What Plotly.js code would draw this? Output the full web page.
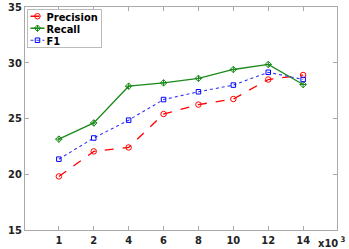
<!DOCTYPE html>
<html><head><meta charset="utf-8">
<script src="https://cdn.plot.ly/plotly-3.0.1.min.js"></script>
<style>html,body{margin:0;padding:0;background:#fff}#c{width:349px;height:249px}</style>
</head><body><div id="c"></div>
<script>
var categories = ["1","2","4","6","8","10","12","14"];
var precision = [19.8, 22.05, 22.4, 25.4, 26.25, 26.75, 28.5, 28.9];
var recall = [23.15, 24.6, 27.9, 28.2, 28.6, 29.4, 29.85, 28.05];
var f1 = [21.35, 23.25, 24.85, 26.7, 27.4, 28.0, 29.15, 28.5];
var yTicks = [15, 20, 25, 30, 35];

var FAM = "Liberation Sans Narrow, DejaVu Sans Condensed, Arial, sans-serif";
var traces = [
  {x: categories, y: precision, name: "Precision", mode: "lines+markers",
   line: {color: "#ff0000", width: 1.3, dash: "dash"},
   marker: {symbol: "circle-open", size: 5.5, color: "#ff0000", line: {width: 1}}},
  {x: categories, y: recall, name: "Recall", mode: "lines+markers",
   line: {color: "#1a8a1a", width: 1.3},
   marker: {symbol: "diamond-cross-open", size: 5, color: "#1a8a1a", line: {width: 1}}},
  {x: categories, y: f1, name: "F1", mode: "lines+markers",
   line: {color: "#3333ff", width: 1.1, dash: "dot"},
   marker: {symbol: "square-open", size: 4.5, color: "#0000ff", line: {width: 1}}}
];
var tf = {family: FAM, size: 11, color: "#222", weight: "bold"};
var layout = {
  width: 349, height: 249,
  margin: {l: 25, r: 12, t: 7, b: 19},
  paper_bgcolor: "#fff", plot_bgcolor: "#fff",
  font: {family: FAM, size: 11, color: "#222"},
  showlegend: true,
  legend: {x: 0.008, y: 0.99, xanchor: "left", yanchor: "top",
           bgcolor: "#fff", bordercolor: "#bbb", borderwidth: 1,
           font: {family: FAM, size: 11, color: "#000", weight: "bold"},
           tracegroupgap: 0},
  xaxis: {type: "category", range: [-0.97, 7.97], showgrid: false, zeroline: false,
          showline: true, linecolor: "#aaa", linewidth: 1, mirror: "ticks",
          ticks: "inside", ticklen: 4, tickcolor: "#aaa", tickfont: tf},
  yaxis: {range: [14.99, 35.01], tickvals: yTicks, showgrid: false, zeroline: false,
          showline: true, linecolor: "#aaa", linewidth: 1, mirror: "ticks",
          ticks: "inside", ticklen: 4, tickcolor: "#aaa", tickfont: tf},
  annotations: [{xref: "paper", yref: "paper", x: 1.0, y: 0, xanchor: "right", yanchor: "top",
                 text: "x10<sup> 3</sup>", showarrow: false, xshift: 11, yshift: -3,
                 font: {family: FAM, size: 11, color: "#222", weight: "bold"}}]
};
Plotly.newPlot("c", traces, layout, {displayModeBar: false, staticPlot: true}).then(function(gd){
  var leg = gd.querySelector(".legend");
  if (!leg) return;
  var items = leg.querySelectorAll(".traces");
  var maxR = 0;
  items.forEach(function(it, i){
    it.setAttribute("transform", "translate(1," + (7 + i*12) + ")");
    it.querySelectorAll(".legendlines path").forEach(function(p){ p.setAttribute("d", "M2,0h14"); });
    it.querySelectorAll(".legendpoints path").forEach(function(p){ p.setAttribute("transform", "translate(9,0)"); });
    var t = it.querySelector(".legendtext");
    if (t) { t.setAttribute("x", 18); var w = t.getComputedTextLength(); maxR = Math.max(maxR, 18 + w); }
  });
  var bg = leg.querySelector(".bg");
  if (bg) { bg.setAttribute("width", maxR + 4); bg.setAttribute("height", items.length*12 + 2); }
});
</script></body></html>
